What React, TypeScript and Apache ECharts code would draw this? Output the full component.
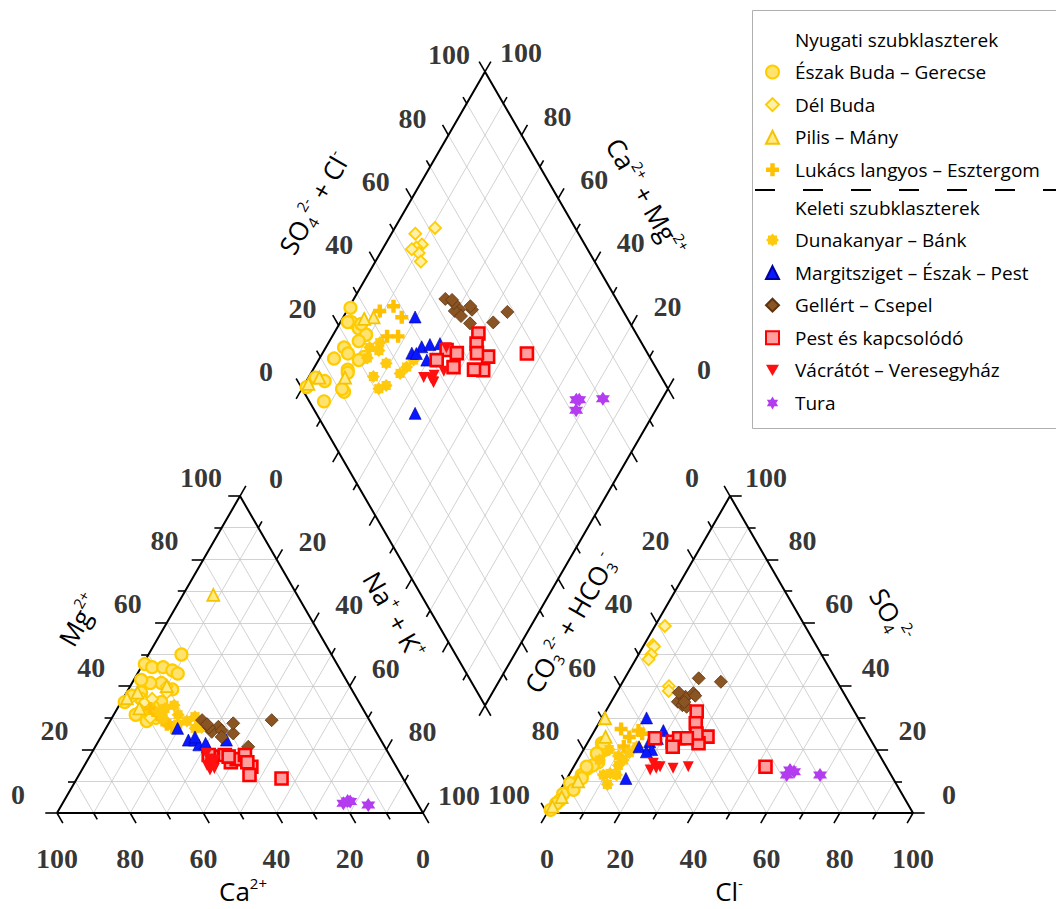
import React, { useEffect, useRef } from "react";
import * as echarts from "echarts";

// ---- geometry of the Piper diagram (units: triangle side = 100) ----
const GAP = 33.88;
const H = Math.sqrt(3) / 2;
const PX0 = 57;
const PY0 = 813;
const K = 3.66;
const W = 1056;
const HT = 909;

const tickValues = [0, 20, 40, 60, 80, 100];
const gridSteps = [10, 20, 30, 40, 50, 60, 70, 80, 90];
const tickSteps = [0, 10, 20, 30, 40, 50, 60, 70, 80, 90, 100];

// ---- samples: [Mg2+, Na+ + K+, SO4 2-, Cl-] in meq% (Ca2+ and HCO3- are the remainders) ----
const eszakBuda = [
  [50, 9, 20, 6], [39, 12, 16, 6], [47, 0.5, 22, 4], [46, 3, 19, 5], [46, 6, 20, 5],
  [45, 9, 21, 5], [41, 8, 18, 5], [41, 5, 14, 4], [35, 11, 15, 5], [33.5, 9.5, 12, 3.5],
  [38, 4, 10, 3.5], [36, 5, 6, 1.4], [37, 2, 4, 1.5], [35, 1, 1, 0.5], [30, 12, 9.4, 1.6],
  [32, 7, 14.6, 3.5], [42, 2, 18.8, 4.2], [44, 11, 7.3, 3.6], [34, 8, 3, 1], [29, 10, 11, 4],
  [31, 6, 22, 4.4],
];
const delBuda = [
  [38, 11, 59, 2.7], [35, 6.5, 53, 2.4], [40, 10, 52.5, 3], [33, 9, 50, 3.5],
  [30, 10.5, 40, 13.3], [32, 12.4, 38.5, 14], [36, 8, 48.5, 3.5],
];
const pilisMany = [
  [68.8, 8.3, 29.9, 0.9], [36.2, 1, 2, 0.5], [40, 10, 10, 3.5], [33, 6, 24, 4], [38, 3, 5, 1.5],
];
const lukacs = [
  [31, 12, 26, 12], [28, 16, 25, 13.5], [33, 9, 26.5, 7], [29, 15, 21, 10.5], [27, 18, 24, 10.5],
];
const dunakanyar = [
  [30, 14, 18, 10.5], [31, 17.6, 12, 9.4], [28, 19, 15, 12], [30.4, 22.5, 12.5, 11],
  [26.7, 24.4, 16.7, 12.5], [28.3, 25.2, 19, 13], [27, 26, 20.9, 14.1], [32, 12, 12, 13],
  [29, 21, 9, 12], [33, 13, 16.7, 6], [34, 15, 20, 7],
];
const margitsziget = [
  [26.7, 19.6, 30, 12.2], [23, 24.4, 20.9, 14.7], [23, 26.1, 22.5, 16.8], [21.5, 28, 23.5, 18.4],
  [20.9, 30.6, 26, 18.8], [22, 29.6, 20, 18.6], [23, 34.8, 10.9, 16.1], [24, 25.7, 19.3, 17.5],
];
const gellert = [
  [29.3, 25, 35.1, 18.2], [27.2, 30.5, 36, 19.5], [25.6, 29.5, 34, 20], [25.1, 35.6, 36.7, 19.5],
  [29.3, 44, 41.4, 26.8], [20.9, 41.8, 42.5, 20.2], [28.3, 34, 37.8, 21.1], [26, 32, 33.5, 21.4],
  [27, 28, 38, 17], [24, 33, 37, 22], [28, 27, 35, 20],
];
const pest = [
  [17.8, 33.4, 22.5, 23.1], [18.3, 36.7, 23.6, 24.3], [16, 39.5, 32, 24.9], [17, 40.6, 28.3, 26.5],
  [14.6, 45.8, 24.1, 31.8], [12, 46.6, 22, 30.4], [17.8, 38, 20.9, 23.9], [10.9, 55.9, 14.6, 52.4],
  [18.3, 32.3, 23.6, 17.7], [18.3, 42.2, 25.1, 28.3], [16, 44, 23.6, 26.4],
];
const vacratot = [
  [13.6, 35, 14.1, 22.8], [16.7, 34.8, 14.6, 22.4], [18.8, 31.5, 13.6, 21.4], [15, 33.5, 15.7, 21.2],
  [14, 36, 14.1, 27.4], [17, 33, 14.6, 31.3], [15.5, 34, 14.6, 23.6],
];
const tura = [
  [3.1, 76.7, 13.6, 59.6], [3.6, 78.3, 12, 59.5], [2.5, 83.8, 12, 68.6], [3.8, 77.5, 13, 61],
];

// ---- projections ----
const cat = (mg: number, na: number) => [na + mg / 2, mg * H];
const an = (so4: number, cl: number) => [100 + GAP + cl + so4 / 2, so4 * H];
const dia = (s: number, n: number) => [50 + GAP / 2 + 0.5 * (s + n), GAP * H + 100 * H + H * (s - n)];

const project = (rows: number[][]) =>
  rows.flatMap(([mg, na, so4, cl]) => [cat(mg, na), an(so4, cl), dia(so4 + cl, na)]);

const PLUS = "path://M3.3,0 H6.7 V3.3 H10 V6.7 H6.7 V10 H3.3 V6.7 H0 V3.3 H3.3 Z";
const STAR8 =
  "path://M10,0 L12.9,3.1 L17.07,2.93 L16.9,7.1 L20,10 L16.9,12.9 L17.07,17.07 L12.9,16.9 L10,20 L7.1,16.9 L2.93,17.07 L3.1,12.9 L0,10 L3.1,7.1 L2.93,2.93 L7.1,3.1 Z";
const STAR6 =
  "path://M10,0 L12.89,5 L18.66,5 L15.77,10 L18.66,15 L12.89,15 L10,20 L7.11,15 L1.34,15 L4.23,10 L1.34,5 L7.11,5 Z";
const DOWN_TRI = "path://M0,0 L20,0 L10,17.3 Z";

const groups = [
  { name: "Észak Buda – Gerecse", rows: eszakBuda, symbol: "circle", size: 12, style: { color: "#FFE36E", borderColor: "#FFCC00", borderWidth: 2.2 } },
  { name: "Dél Buda", rows: delBuda, symbol: "diamond", size: 12, style: { color: "#FFF0A8", borderColor: "#FFCC00", borderWidth: 1.8 } },
  { name: "Pilis – Mány", rows: pilisMany, symbol: "triangle", size: 12, style: { color: "#FFEA85", borderColor: "#F5C400", borderWidth: 1.8 } },
  { name: "Lukács langyos – Esztergom", rows: lukacs, symbol: PLUS, size: 13, style: { color: "#FFC000" } },
  { name: "Dunakanyar – Bánk", rows: dunakanyar, symbol: STAR8, size: 13, style: { color: "#FFC90E" } },
  { name: "Margitsziget – Észak – Pest", rows: margitsziget, symbol: "triangle", size: 12, style: { color: "#0A18FF", borderColor: "#0000A0", borderWidth: 0.6 } },
  { name: "Gellért – Csepel", rows: gellert, symbol: "diamond", size: 13, style: { color: "#8B5523", borderColor: "#5C3310", borderWidth: 0.8 } },
  { name: "Pest és kapcsolódó", rows: pest, symbol: "rect", size: 12, style: { color: "#FF9E9E", borderColor: "#FF0000", borderWidth: 2.6 } },
  { name: "Vácrátót – Veresegyház", rows: vacratot, symbol: DOWN_TRI, size: 11, style: { color: "#FF1010" } },
  { name: "Tura", rows: tura, symbol: STAR6, size: 14, style: { color: "#B43CF0" } },
];

function buildOption() {
  // grid lines
  const gridSegs: number[][][] = [];
  gridSteps.forEach((t) => {
    gridSegs.push([cat(t, 0), cat(t, 100 - t)]);
    gridSegs.push([cat(0, t), cat(100 - t, t)]);
    gridSegs.push([cat(0, 100 - t), cat(100 - t, 0)]);
    gridSegs.push([an(t, 0), an(t, 100 - t)]);
    gridSegs.push([an(0, t), an(100 - t, t)]);
    gridSegs.push([an(0, 100 - t), an(100 - t, 0)]);
    gridSegs.push([dia(t, 0), dia(t, 100)]);
    gridSegs.push([dia(0, t), dia(100, t)]);
  });

  // ticks
  const tickSegs: number[][][] = [];
  const addTick = (p: number[], d: number[], v: number) => {
    const len = v % 20 === 0 ? 3.2 : 2.0;
    tickSegs.push([p, [p[0] + d[0] * len, p[1] + d[1] * len]]);
  };
  tickSteps.forEach((v) => {
    addTick(cat(v, 0), [-1, 0], v);
    addTick(cat(100 - v, v), [0.5, H], v);
    addTick(cat(0, 100 - v), [0.5, -H], v);
    addTick(an(v, 100 - v), [1, 0], v);
    addTick(an(100 - v, 0), [-0.5, H], v);
    addTick(an(0, v), [-0.5, -H], v);
    addTick(dia(v, 0), [-0.5, H], v);
    addTick(dia(100, v), [0.5, H], v);
    addTick(dia(0, v), [-0.5, -H], v);
    addTick(dia(v, 100), [0.5, -H], v);
  });

  // tick labels
  const tl: any[] = [];
  const addLabel = (p: number[], v: number, off: number[]) =>
    tl.push({ value: p, label: { formatter: String(v), offset: off } });
  tickValues.forEach((v) => {
    addLabel(cat(v, 0), v, [-39, -19]);
    addLabel(cat(100 - v, v), v, [36, -18]);
    addLabel(cat(0, 100 - v), v, [0, 45]);
    addLabel(an(v, 100 - v), v, [36, -19]);
    addLabel(an(100 - v, 0), v, [-38, -19]);
    addLabel(an(0, v), v, [0, 45]);
    addLabel(dia(v, 0), v, [-36, -17]);
    addLabel(dia(100, 100 - v), v, [36, -19]);
  });

  const outline = (pts: number[][]) => ({
    type: "line",
    data: pts,
    symbol: "none",
    silent: true,
    z: 3,
    lineStyle: { color: "#000", width: 2 },
  });

  const rich = {
    n: { fontSize: 26, lineHeight: 32, fontFamily: "Open Sans", color: "#000" },
    sup: { fontSize: 15, lineHeight: 15, verticalAlign: "top", fontFamily: "Open Sans", color: "#000" },
    sub: { fontSize: 15, lineHeight: 15, verticalAlign: "bottom", fontFamily: "Open Sans", color: "#000" },
  };
  const title = (text: string, x: number, y: number, deg: number) => ({
    type: "text",
    x,
    y,
    rotation: (deg * Math.PI) / 180,
    z: 10,
    style: { text, rich, align: "center", verticalAlign: "middle", fill: "#000" },
  });

  const legendText = { fontFamily: "Open Sans", fontSize: 19, color: "#000", lineHeight: 20, padding: [0, 0, 0, 11] };
  const legendBase = {
    orient: "vertical",
    left: 760,
    itemGap: 12.6,
    itemWidth: 13,
    itemHeight: 13,
    selectedMode: false,
    textStyle: legendText,
  };

  return {
    animation: false,
    grid: { left: 0, right: 0, top: 0, bottom: 0 },
    xAxis: { type: "value", min: -PX0 / K, max: (W - PX0) / K, show: false },
    yAxis: { type: "value", min: -(HT - PY0) / K, max: PY0 / K, show: false },
    legend: [
      { ...legendBase, top: 57, data: groups.slice(0, 4).map((g) => g.name) },
      { ...legendBase, top: 225, data: groups.slice(4).map((g) => g.name) },
    ],
    graphic: [
      { type: "rect", z: 0, shape: { x: 752.5, y: 10.5, width: 330, height: 418 }, style: { fill: "#fff", stroke: "#b0b0b0", lineWidth: 1 } },
      { type: "line", z: 1, shape: { x1: 755, y1: 190, x2: 1056, y2: 190 }, style: { stroke: "#000", lineWidth: 2, lineDash: [20, 28] } },
      { type: "text", z: 10, x: 795, y: 40, style: { text: "Nyugati szubklaszterek", font: "19px 'Open Sans'", fill: "#000", verticalAlign: "middle" } },
      { type: "text", z: 10, x: 795, y: 208, style: { text: "Keleti szubklaszterek", font: "19px 'Open Sans'", fill: "#000", verticalAlign: "middle" } },
      title("{n|Mg}{sup|2+}", 79, 620, 60),
      title("{n|Na}{sup|+}{n| + K}{sup|+}", 394, 615, -60),
      title("{n|CO}{sub|3}{sup|2-}{n| + HCO}{sub|3}{sup|-}", 570, 623, 60),
      title("{n|SO}{sub|4}{sup|2-}", 891, 615, -60),
      title("{n|SO}{sub|4}{sup|2-}{n| + Cl}{sup|-}", 314, 203, 60),
      title("{n|Ca}{sup|2+}{n| + Mg}{sup|2+}", 646, 197, -60),
      title("{n|Ca}{sup|2+}", 243, 891, 0),
      title("{n|Cl}{sup|-}", 729, 891, 0),
    ],
    series: [
      {
        type: "lines",
        coordinateSystem: "cartesian2d",
        silent: true,
        z: 1,
        lineStyle: { color: "#c6c6c6", width: 0.8, opacity: 1 },
        data: gridSegs.map((c) => ({ coords: c })),
      },
      {
        type: "lines",
        coordinateSystem: "cartesian2d",
        silent: true,
        z: 3,
        lineStyle: { color: "#000", width: 1.6, opacity: 1 },
        data: tickSegs.map((c) => ({ coords: c })),
      },
      outline([cat(0, 0), cat(0, 100), cat(100, 0), cat(0, 0)]),
      outline([an(0, 0), an(0, 100), an(100, 0), an(0, 0)]),
      outline([dia(0, 0), dia(100, 0), dia(100, 100), dia(0, 100), dia(0, 0)]),
      {
        type: "scatter",
        silent: true,
        symbolSize: 1,
        z: 4,
        itemStyle: { color: "rgba(0,0,0,0)" },
        label: {
          show: true,
          position: "inside",
          fontFamily: "Liberation Serif",
          fontWeight: "bold",
          fontSize: 28,
          color: "#000",
        },
        data: tl,
      },
      ...groups.map((g, i) => ({
        type: "scatter",
        name: g.name,
        symbol: g.symbol,
        symbolSize: g.size,
        z: 5 + i,
        itemStyle: { ...g.style, opacity: 1 },
        data: project(g.rows),
      })),
    ],
  };
}

export default function App() {
  const ref = useRef<HTMLDivElement>(null);
  useEffect(() => {
    if (!ref.current) return;
    const chart = echarts.init(ref.current, null, { renderer: "svg" });
    chart.setOption(buildOption() as any);
    return () => chart.dispose();
  }, []);
  return (
    <div
      ref={ref}
      style={{ position: "absolute", left: 0, top: 0, width: W, height: HT, background: "#fff" }}
    />
  );
}
